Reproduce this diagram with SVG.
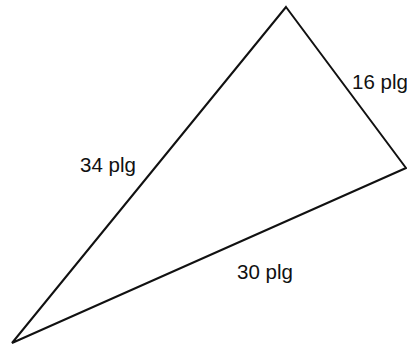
<svg xmlns="http://www.w3.org/2000/svg" width="407" height="347" viewBox="0 0 407 347">
<style>
.edge{fill:none;stroke:#111;stroke-width:2;stroke-linejoin:miter}
.lbl{font-family:"Liberation Sans",Arial,sans-serif;font-size:20.5px;fill:#111}
</style>
<rect width="407" height="347" fill="#fff"/>
<g id="connectors">
<polygon class="edge" points="286,7 406,168 12,343"/>
</g>
<g id="label-34"><text class="lbl" x="80" y="172">34 plg</text></g>
<g id="label-16"><text class="lbl" x="352" y="89">16 plg</text></g>
<g id="label-30"><text class="lbl" x="237" y="279">30 plg</text></g>
</svg>
